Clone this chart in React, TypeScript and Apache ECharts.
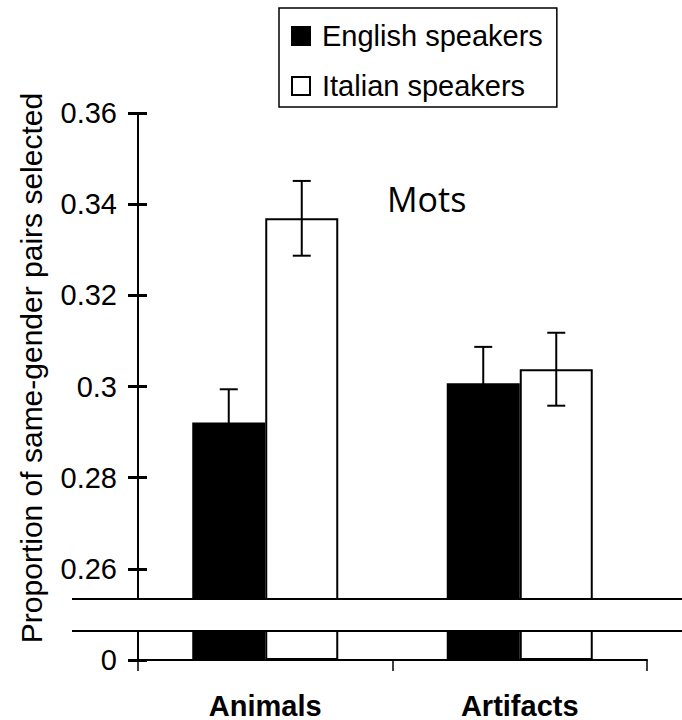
import React, { useEffect, useRef } from 'react';
import * as echarts from 'echarts';

const categories = ['Animals', 'Artifacts'];
const seriesNames = ['English speakers', 'Italian speakers'];
const englishValues = [0.2921, 0.3007];
const italianValues = [0.3369, 0.3038];
const englishErrors = [0.0073, 0.008];
const italianErrors = [0.0082, 0.008];
const upperTicks = [0.26, 0.28, 0.3, 0.32, 0.34, 0.36];
const upperTickLabels = ['0.26', '0.28', '0.3', '0.32', '0.34', '0.36'];
const lowerTicks = [0];
const lowerTickLabels = ['0'];
const upperRange = [0.2534, 0.36];
const lowerRange = [0, 0.00636];
const yTitle = 'Proportion of same-gender pairs selected';
const panelTitle = 'Mots';

const FONT = '"Liberation Sans", Arial, sans-serif';
const BAR_W = 73;

function labelFor(ticks: number[], labels: string[]) {
  return (v: number) => {
    const i = ticks.findIndex((t) => Math.abs(t - v) < 1e-9);
    return i >= 0 ? labels[i] : '';
  };
}

function buildOption() {
  const grid = [
    { left: 138, top: 113, width: 509, height: 486 },
    { left: 138, top: 631, width: 509, height: 29 },
  ];
  const xAxis = [
    { gridIndex: 0, type: 'category', data: categories, show: false },
    {
      gridIndex: 1,
      type: 'category',
      data: categories,
      axisLine: { lineStyle: { color: '#000', width: 2 } },
      axisTick: { show: true, length: 11, lineStyle: { color: '#000', width: 1.5 } },
      axisLabel: { fontSize: 29, fontWeight: 'bold', color: '#000', margin: 31, fontFamily: FONT },
    },
  ];
  const mkY = (gi: number, range: number[], ticks: number[], labels: string[]) => [
    {
      gridIndex: gi,
      type: 'value',
      position: 'left',
      min: range[0],
      max: range[1],
      axisLine: { show: true, lineStyle: { color: '#000', width: 2 } },
      axisTick: { show: true, length: 10, customValues: ticks, lineStyle: { color: '#000', width: 3 } },
      axisLabel: {
        customValues: ticks,
        formatter: labelFor(ticks, labels),
        fontSize: 29,
        color: '#000',
        margin: 21,
        fontFamily: FONT,
      },
      splitLine: { show: false },
    },
    {
      gridIndex: gi,
      type: 'value',
      position: 'left',
      offset: 0,
      min: range[0],
      max: range[1],
      axisLine: { show: false },
      axisTick: { show: true, inside: true, length: 9, customValues: ticks, lineStyle: { color: '#000', width: 3 } },
      axisLabel: { show: false },
      splitLine: { show: false },
    },
  ];
  const yAxis = [
    ...mkY(0, upperRange, upperTicks, upperTickLabels),
    ...mkY(1, lowerRange, lowerTicks, lowerTickLabels),
  ];

  const barStyles = [
    { color: '#000', borderColor: '#000', borderWidth: 2 },
    { color: '#fff', borderColor: '#000', borderWidth: 2 },
  ];
  const values = [englishValues, italianValues];
  const errors = [englishErrors, italianErrors];

  const series: any[] = [];
  [0, 1].forEach((gi) => {
    [0, 1].forEach((si) => {
      series.push({
        type: 'bar',
        name: seriesNames[si],
        xAxisIndex: gi,
        yAxisIndex: gi * 2,
        data: values[si],
        barWidth: BAR_W,
        barGap: '0%',
        clip: true,
        itemStyle: barStyles[si],
      });
    });
  });
  [0, 1].forEach((si) => {
    series.push({
      type: 'custom',
      name: 'err' + si,
      xAxisIndex: 0,
      yAxisIndex: 0,
      z: 10,
      data: categories.map((c, i) => [i, values[si][i], errors[si][i], si === 0 ? -1 : 1]),
      renderItem: (params: any, api: any) => {
        const idx = api.value(0);
        const v = api.value(1);
        const e = api.value(2);
        const side = api.value(3);
        const c = api.coord([idx, v]);
        const x = c[0] + (side * BAR_W) / 2;
        const yTop = api.coord([idx, v + e])[1];
        const yBot = api.coord([idx, v - e])[1];
        const st = { stroke: '#000', lineWidth: 2 };
        return {
          type: 'group',
          children: [
            { type: 'line', shape: { x1: x, y1: yTop, x2: x, y2: yBot }, style: st },
            { type: 'line', shape: { x1: x - 9, y1: yTop, x2: x + 9, y2: yTop }, style: st },
            { type: 'line', shape: { x1: x - 9, y1: yBot, x2: x + 9, y2: yBot }, style: st },
          ],
        };
      },
    });
  });

  return {
    animation: false,
    backgroundColor: '#fff',
    grid,
    xAxis,
    yAxis,
    legend: {
      data: seriesNames,
      orient: 'vertical',
      left: 279,
      top: 8,
      padding: [13.5, 14, 6.5, 12],
      itemWidth: 18,
      itemHeight: 18,
      itemGap: 21,
      icon: 'rect',
      borderColor: '#000',
      borderWidth: 1.5,
      textStyle: { fontSize: 29, lineHeight: 29, color: '#000', fontFamily: FONT, padding: [0, 0, 0, 7] },
    },
    graphic: [
      {
        type: 'text',
        x: 31,
        y: 368,
        rotation: Math.PI / 2,
        style: {
          text: yTitle,
          font: '30px "Liberation Sans", Arial, sans-serif',
          fill: '#000',
          align: 'center',
          verticalAlign: 'middle',
        },
      },
      {
        type: 'text',
        x: 387,
        y: 199,
        style: {
          text: panelTitle,
          font: '34px "Open Sans", sans-serif',
          fill: '#000',
          align: 'left',
          verticalAlign: 'middle',
        },
      },
      {
        type: 'line',
        z: 100,
        shape: { x1: 72, y1: 599, x2: 682, y2: 599 },
        style: { stroke: '#000', lineWidth: 2 },
      },
      {
        type: 'line',
        z: 100,
        shape: { x1: 72, y1: 631, x2: 682, y2: 631 },
        style: { stroke: '#000', lineWidth: 2 },
      },
    ],
    series,
  };
}

export default function App() {
  const ref = useRef<HTMLDivElement>(null);
  useEffect(() => {
    const chart = echarts.init(ref.current!, null, { renderer: 'svg' });
    chart.setOption(buildOption() as any);
    return () => chart.dispose();
  }, []);
  return (
    <div
      ref={ref}
      style={{ position: 'fixed', left: 0, top: 0, width: 682, height: 720, background: '#fff' }}
    />
  );
}
